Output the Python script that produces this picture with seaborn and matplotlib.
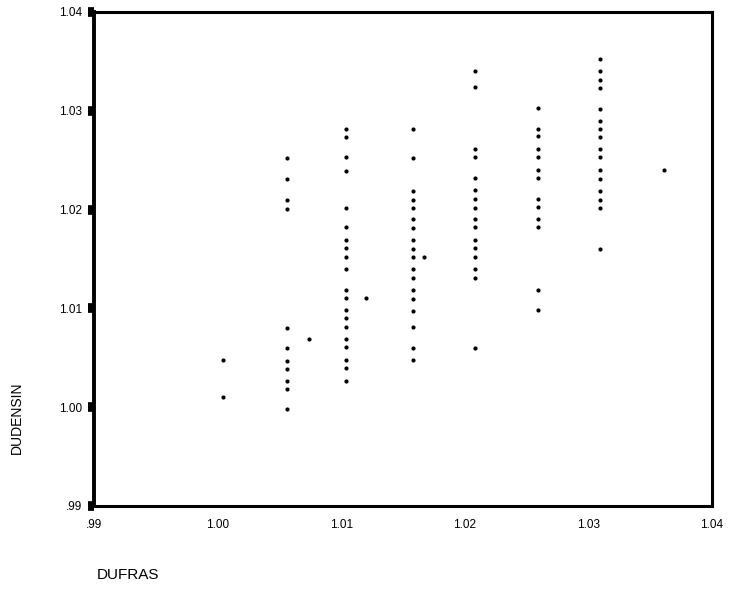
import numpy as np
import pandas as pd
import matplotlib
matplotlib.use("Agg")
import matplotlib.pyplot as plt
import seaborn as sns

# DUFRAS column positions and DUDENSIN values
x_100 = 1.0004
y_100 = [1.0048, 1.0010]

x_1005 = 1.0056
y_1005 = [1.0252, 1.0231, 1.0210, 1.0201, 1.0080, 1.0060, 1.0047,
          1.0039, 1.0027, 1.0018, 0.9998]

x_1007 = 1.0074
y_1007 = [1.0069]

x_101 = 1.0104
y_101 = [1.0282, 1.0273, 1.0253, 1.0239, 1.0202, 1.0182, 1.0169, 1.0161,
         1.0152, 1.0140, 1.0119, 1.0111, 1.0098, 1.0090, 1.0081, 1.0069,
         1.0061, 1.0048, 1.0040, 1.0027]

x_1012 = 1.0120
y_1012 = [1.0111]

x_1015 = 1.0158
y_1015 = [1.0282, 1.0252, 1.0219, 1.0210, 1.0202, 1.0190, 1.0181, 1.0169,
          1.0160, 1.0152, 1.0140, 1.0131, 1.0119, 1.0110, 1.0097, 1.0081,
          1.0060, 1.0048]

x_1017 = 1.0167
y_1017 = [1.0152]

x_102 = 1.0208
y_102 = [1.0340, 1.0324, 1.0261, 1.0253, 1.0232, 1.0220, 1.0211, 1.0202,
         1.0190, 1.0182, 1.0169, 1.0161, 1.0152, 1.0140, 1.0131, 1.0060]

x_1025 = 1.0259
y_1025 = [1.0303, 1.0282, 1.0274, 1.0261, 1.0253, 1.0240, 1.0232, 1.0211,
          1.0203, 1.0190, 1.0182, 1.0119, 1.0098]

x_103 = 1.0309
y_103 = [1.0352, 1.0340, 1.0331, 1.0323, 1.0302, 1.0290, 1.0282, 1.0273,
         1.0261, 1.0253, 1.0240, 1.0231, 1.0219, 1.0210, 1.0202, 1.0160]

x_1036 = 1.0361
y_1036 = [1.0240]

ticks = [0.99, 1.00, 1.01, 1.02, 1.03, 1.04]
tick_labels = [".99", "1.00", "1.01", "1.02", "1.03", "1.04"]

columns = [(x_100, y_100), (x_1005, y_1005), (x_1007, y_1007), (x_101, y_101),
           (x_1012, y_1012), (x_1015, y_1015), (x_1017, y_1017), (x_102, y_102),
           (x_1025, y_1025), (x_103, y_103), (x_1036, y_1036)]
rows = []
for xv, ys in columns:
    for yv in ys:
        rows.append({"DUFRAS": xv, "DUDENSIN": yv})
df = pd.DataFrame(rows)

sns.set_style("white")
plt.rcParams["font.family"] = ["Liberation Sans", "DejaVu Sans"]
plt.rcParams["text.color"] = "black"
plt.rcParams["xtick.color"] = "black"
plt.rcParams["ytick.color"] = "black"

fig = plt.figure(figsize=(7.48, 5.96), dpi=100)
ax = fig.add_axes([94 / 748, 1 - 506 / 596, (712 - 94) / 748, (506 - 12) / 596])

sns.scatterplot(data=df, x="DUFRAS", y="DUDENSIN", ax=ax, color="black",
                s=9, marker="o", linewidth=0)

ax.set_xlim(0.99, 1.04)
ax.set_ylim(0.99, 1.04)
ax.set_xticks(ticks)
ax.set_xticklabels(tick_labels, fontsize=8.5)
ax.set_yticks(ticks)
ax.set_yticklabels(tick_labels, fontsize=8.5)
ax.tick_params(axis="y", left=True, length=4.5, width=7, color="black",
               labelcolor="black", pad=4, direction="out")
ax.tick_params(axis="x", bottom=False, length=0, pad=9, labelcolor="black")
ax.set_xlabel("")
ax.set_ylabel("")

for side in ["top", "right", "bottom"]:
    ax.spines[side].set_linewidth(2.2)
    ax.spines[side].set_color("black")
ax.spines["left"].set_linewidth(2.8)
ax.spines["left"].set_color("black")

fig.text(97 / 748, 1 - 575 / 596, "DUFRAS", fontsize=11, color="black",
         ha="left", va="center")
fig.text(17 / 748, 1 - 418 / 596, "DUDENSIN", fontsize=10, color="black",
         rotation=90, ha="center", va="center")

fig.savefig("out.png", dpi=100)
